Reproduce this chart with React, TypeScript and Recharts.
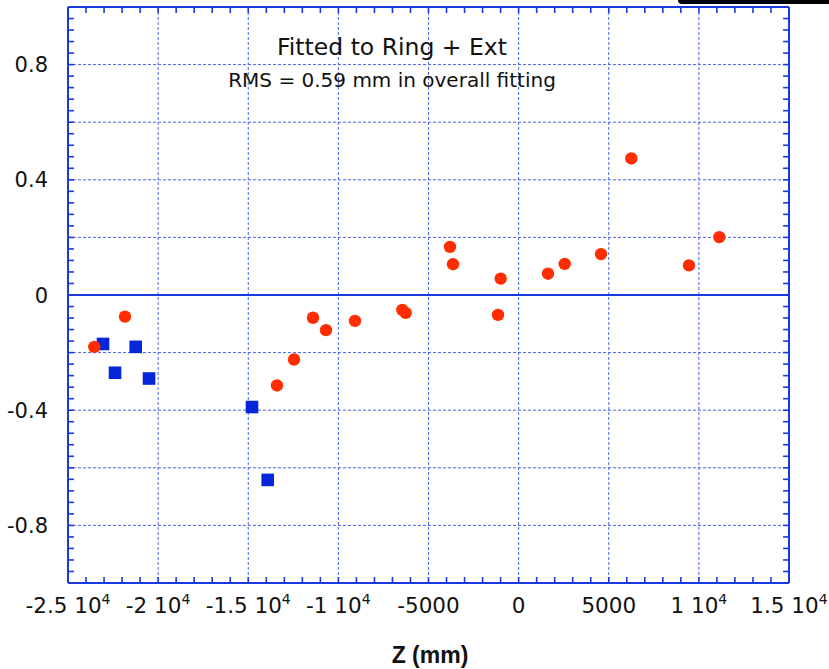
import React from 'react';
import {
  CartesianGrid,
  Customized,
  ReferenceLine,
  Scatter,
  ScatterChart,
  XAxis,
  YAxis,
} from 'recharts';

// red circles: z (mm), residual
const redZ = [-23541, -21838, -13405, -12462, -11408, -10687, -9078, -6453, -6265, -3807, -3641, -994, -1144, 1630, 2556, 4570, 6251, 9452, 11134];
const redRes = [-0.18, -0.075, -0.314, -0.224, -0.079, -0.122, -0.09, -0.052, -0.062, 0.167, 0.107, 0.057, -0.069, 0.074, 0.108, 0.142, 0.474, 0.103, 0.201];

// blue squares
const blueZ = [-23058, -22392, -21244, -20506, -14792, -13921];
const blueRes = [-0.17, -0.27, -0.18, -0.29, -0.389, -0.642];

const X_MIN = -25000;
const X_MAX = 15000;
const Y_MIN = -1;
const Y_MAX = 1;

const xTicks = [-25000, -20000, -15000, -10000, -5000, 0, 5000, 10000, 15000];
const yTicks = [-0.8, -0.4, 0, 0.4, 0.8];
const yGrid = [-0.8, -0.6, -0.4, -0.2, 0.2, 0.4, 0.6, 0.8];
const xMinor: number[] = [];
for (let v = X_MIN + 1000; v < X_MAX; v += 1000) xMinor.push(v);
const yMinor: number[] = [];
for (let i = -24; i <= 24; i++) yMinor.push(Math.round(i * 4) / 100);

const redData = redZ.map((z, i) => ({ z, r: redRes[i] }));
const blueData = blueZ.map((z, i) => ({ z, r: blueRes[i] }));

const BLUE = '#1a3ae0';
const FONT = '"DejaVu Sans", sans-serif';
// inward minor tick marks (~6px) in data units, starting just inside the frame
const TICK_X = 330;
const TICK_Y = 0.021;
const EPS_X = 20;
const EPS_Y = 0.0015;

function XTick({ x, y, payload }: any) {
  const v = payload.value as number;
  const big = Math.abs(v) >= 10000;
  return (
    <text x={x} y={y + 30} textAnchor="middle" fontSize={21.5} fontFamily={FONT} fill="#111">
      {big ? `${v / 10000} 10` : `${v}`}
      {big && (
        <tspan dy={-9} fontSize={14}>
          4
        </tspan>
      )}
    </text>
  );
}

function YTick({ x, y, payload }: any) {
  return (
    <text x={x - 20} y={y + 7.5} textAnchor="end" fontSize={21} fontFamily={FONT} fill="#111">
      {payload.value}
    </text>
  );
}

const RedDot = ({ cx, cy }: any) => <circle cx={cx} cy={cy} r={6.2} fill="#ff2d00" />;
const BlueSquare = ({ cx, cy }: any) => (
  <rect x={cx - 6.3} y={cy - 6.3} width={12.6} height={12.6} fill="#0627d9" />
);

const Notes = () => (
  <g fill="#111">
    <text x={392} y={55} textAnchor="middle" fontSize={23.5} fontFamily={FONT}>
      Fitted to Ring + Ext
    </text>
    <text x={392} y={87} textAnchor="middle" fontSize={20} fontFamily={FONT}>
      RMS = 0.59 mm in overall fitting
    </text>
    <text
      x={430}
      y={663}
      textAnchor="middle"
      fontSize={23}
      fontWeight="bold"
      fontFamily='"Liberation Sans", sans-serif'
    >
      Z (mm)
    </text>
  </g>
);

const seg = (key: string, a: { x: number; y: number }, b: { x: number; y: number }) => (
  <ReferenceLine key={key} xAxisId="x" yAxisId="y" segment={[a, b]} stroke={BLUE} strokeWidth={1.6} />
);

export default function App() {
  return (
    <div style={{ position: 'absolute', left: 0, top: 0, width: 829, height: 669, background: '#fff' }}>
      <div
        style={{
          position: 'absolute',
          left: 678,
          top: 0,
          width: 151,
          height: 4,
          background: '#000',
          borderBottomLeftRadius: 4,
        }}
      />
      <ScatterChart width={829} height={669} margin={{ top: 7, right: 40, bottom: 0, left: 0 }}>
        <XAxis
          xAxisId="x"
          dataKey="z"
          type="number"
          domain={[X_MIN, X_MAX]}
          ticks={xTicks}
          interval={0}
          allowDataOverflow
          height={86}
          tickSize={0}
          tickMargin={0}
          tickLine={false}
          axisLine={{ stroke: BLUE, strokeWidth: 2 }}
          tick={<XTick />}
        />
        <YAxis
          yAxisId="y"
          dataKey="r"
          type="number"
          domain={[Y_MIN, Y_MAX]}
          ticks={yTicks}
          interval={0}
          allowDataOverflow
          width={68}
          tickSize={0}
          tickMargin={0}
          tickLine={false}
          axisLine={{ stroke: BLUE, strokeWidth: 2 }}
          tick={<YTick />}
        />
        <CartesianGrid
          xAxisId="x"
          yAxisId="y"
          verticalValues={xTicks.slice(1, -1)}
          horizontalValues={yGrid}
          stroke="#4a64ea"
          strokeDasharray="3 2"
        />
        {xMinor.map((z) => seg(`t${z}`, { x: z, y: Y_MAX - EPS_Y }, { x: z, y: Y_MAX - TICK_Y }))}
        {xMinor.map((z) => seg(`b${z}`, { x: z, y: Y_MIN + EPS_Y }, { x: z, y: Y_MIN + TICK_Y }))}
        {yMinor.map((r) => seg(`l${r}`, { x: X_MIN + EPS_X, y: r }, { x: X_MIN + TICK_X, y: r }))}
        {yMinor.map((r) => seg(`r${r}`, { x: X_MAX - EPS_X, y: r }, { x: X_MAX - TICK_X, y: r }))}
        <ReferenceLine xAxisId="x" yAxisId="y" y={0} stroke={BLUE} strokeWidth={2} />
        <ReferenceLine xAxisId="x" yAxisId="y" y={Y_MAX} stroke={BLUE} strokeWidth={2} />
        <ReferenceLine xAxisId="x" yAxisId="y" x={X_MAX} stroke={BLUE} strokeWidth={2} />
        <Scatter
          xAxisId="x"
          yAxisId="y"
          data={blueData}
          shape={<BlueSquare />}
          isAnimationActive={false}
        />
        <Scatter
          xAxisId="x"
          yAxisId="y"
          data={redData}
          shape={<RedDot />}
          isAnimationActive={false}
        />
        <Customized component={Notes} />
      </ScatterChart>
    </div>
  );
}
